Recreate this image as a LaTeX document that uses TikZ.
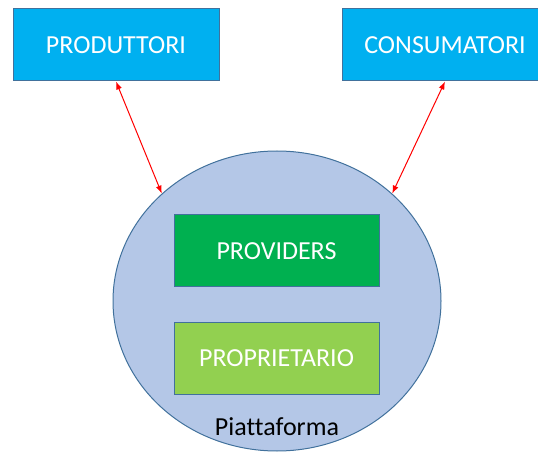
\documentclass[tikz,border=0pt]{standalone}
\usepackage{fontspec}
\setmainfont[Ligatures=CommonOff]{Carlito}
\usetikzlibrary{arrows.meta,shapes.geometric}
\usetikzlibrary{positioning}
\tikzset{
    actor/.style={
      rectangle,
      fill=MyBox,
      draw=MyLine,
      text=white,
      minimum width=206pt,
      minimum height=72pt,
      line width=1pt,
      inner sep=0pt,
      font=\fontsize{26}{30}\selectfont
    },
    role/.style={
      rectangle,
      draw=MyLine,
      text=white,
      minimum width=205pt,
      minimum height=72pt,
      line width=1pt,
      inner sep=0pt,
      font=\fontsize{26}{30}\selectfont
    },
    link/.style={
      {Latex[length=8pt,width=6pt]}-{Latex[length=8pt,width=6pt]},
      red,
      line width=1pt
    },
}
\definecolor{MyBox}{RGB}{0,176,240}
\definecolor{MyLine}{RGB}{65,113,156}
\definecolor{MyPlat}{RGB}{180,199,231}
\definecolor{MyProv}{RGB}{0,176,80}
\definecolor{MyProp}{RGB}{146,208,80}

\begin{document}
\begin{tikzpicture}[x=1pt,y=-1pt]
    \useasboundingbox (0,0) rectangle (538,454);

    % the two outside parties
    \draw (116,45) node[actor] (Prod) {PRODUTTORI};
    \draw (445,45) node[actor] (Cons) {CONSUMATORI};

    % the platform with its two roles
    \draw (277,301) node[ellipse,fill=MyPlat,draw=MyLine,line width=1pt,
      minimum width=328pt,minimum height=300pt,inner sep=0pt] (Plat) {};
    \draw (276.5,251) node[role,fill=MyProv] (Prov) {PROVIDERS};
    \draw (276.5,358) node[role,fill=MyProp] (Prop) {PROPRIETARIO};
    \draw (277,427) node[font=\fontsize{26}{30}\selectfont] (Name) {Piattaforma};

    \path (Prod.south) edge[link] (Plat.137);
    \path (Cons.south) edge[link] (Plat.43);
  \end{tikzpicture}
\end{document}
